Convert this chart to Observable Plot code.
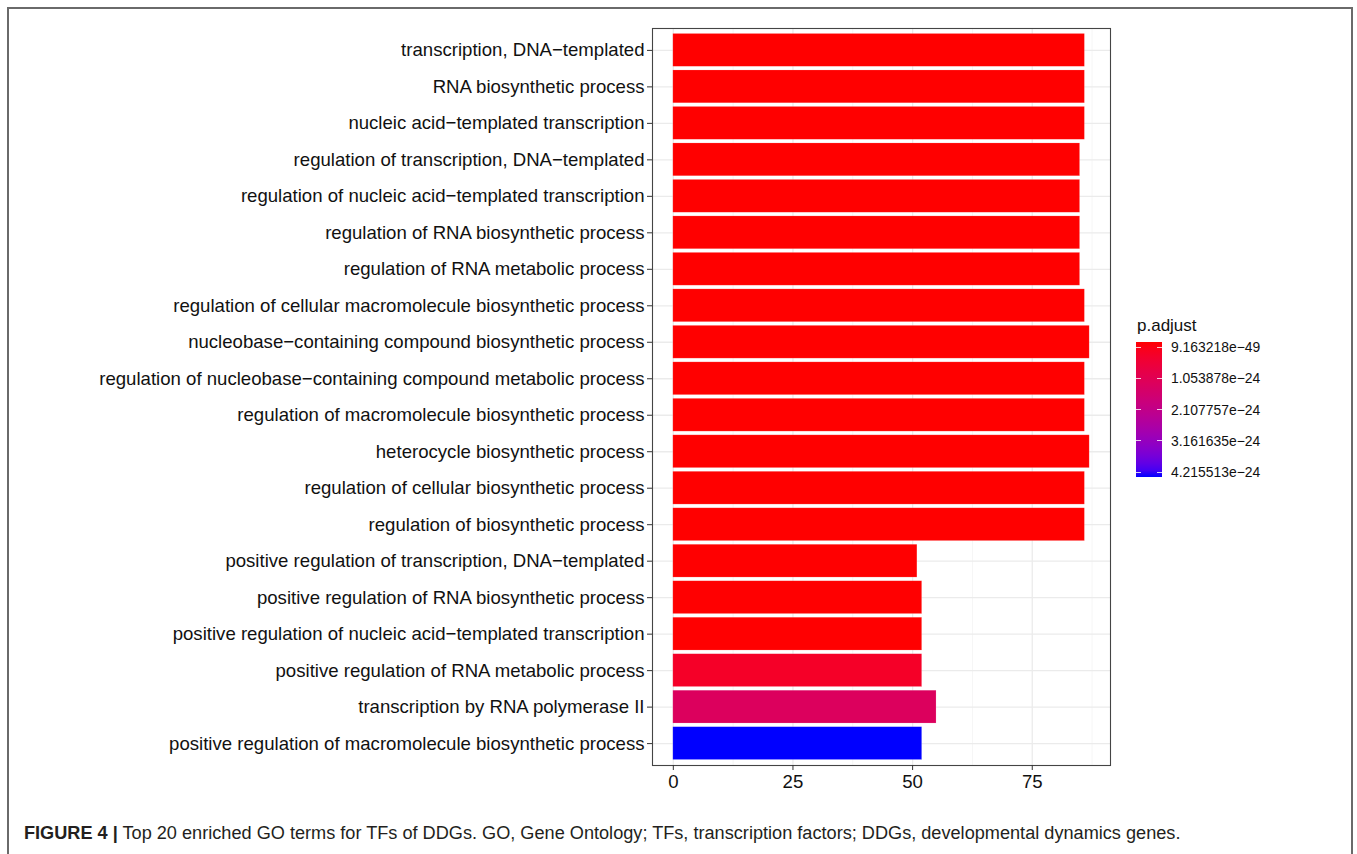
<!DOCTYPE html>
<html>
<head>
<meta charset="utf-8">
<script src="https://cdn.jsdelivr.net/npm/d3@7"></script>
<script src="https://cdn.jsdelivr.net/npm/@observablehq/plot@0.6"></script>
<style>
  html, body { margin: 0; padding: 0; background: #fff; overflow: hidden; }
  #wrap { position: relative; width: 1357px; height: 854px; font-family: "Liberation Sans", Arial, sans-serif; }
  #frame { position: absolute; left: 7px; top: 7px; width: 1346px; height: 900px; border: 2px solid #6a6a6a; box-sizing: border-box; }
  #chart { position: absolute; left: 0; top: 0; }
  #legend { position: absolute; left: 1136px; top: 316px; }
  #caption { position: absolute; left: 24px; top: 823px; font-size: 18.15px; color: #231f20; white-space: nowrap; }
</style>
</head>
<body>
<div id="wrap">
  <div id="frame"></div>
  <div id="chart"></div>
  <div id="legend"></div>
  <div id="caption"><b>FIGURE 4 |</b> Top 20 enriched GO terms for TFs of DDGs. GO, Gene Ontology; TFs, transcription factors; DDGs, developmental dynamics genes.</div>
</div>
<script>
const terms = [
  "transcription, DNA−templated",
  "RNA biosynthetic process",
  "nucleic acid−templated transcription",
  "regulation of transcription, DNA−templated",
  "regulation of nucleic acid−templated transcription",
  "regulation of RNA biosynthetic process",
  "regulation of RNA metabolic process",
  "regulation of cellular macromolecule biosynthetic process",
  "nucleobase−containing compound biosynthetic process",
  "regulation of nucleobase−containing compound metabolic process",
  "regulation of macromolecule biosynthetic process",
  "heterocycle biosynthetic process",
  "regulation of cellular biosynthetic process",
  "regulation of biosynthetic process",
  "positive regulation of transcription, DNA−templated",
  "positive regulation of RNA biosynthetic process",
  "positive regulation of nucleic acid−templated transcription",
  "positive regulation of RNA metabolic process",
  "transcription by RNA polymerase II",
  "positive regulation of macromolecule biosynthetic process"
];
const counts = [86, 86, 86, 85, 85, 85, 85, 86, 87, 86, 86, 87, 86, 86, 51, 52, 52, 52, 55, 52];
const padjust = [9.163218e-49, 9.163218e-49, 9.163218e-49, 2.3e-48, 2.3e-48, 2.3e-48, 4.1e-48, 1.2e-45, 3.5e-45, 8.8e-45,
                 1.5e-44, 2.9e-44, 6.0e-44, 1.1e-43, 3.8e-27, 5.6e-27, 5.6e-27, 3.9e-25, 1.3e-24, 4.215513e-24];
const xTicks = [0, 25, 50, 75];
const xMinorTicks = [12.5, 37.5, 62.5, 87.5];
const legendTicks = [9.163218e-49, 1.053878e-24, 2.107757e-24, 3.161635e-24, 4.215513e-24];
const legendLabels = ["9.163218e−49", "1.053878e−24", "2.107757e−24", "3.161635e−24", "4.215513e−24"];

const data = terms.map((t, i) => ({term: t, count: counts[i], p: padjust[i]}));
const pDomain = [d3.min(padjust), d3.max(padjust)];
const xMax = d3.max(counts);
const xPad = xMax * 0.05;

const chart = Plot.plot({
  width: 1357,
  height: 800,
  marginLeft: 652,
  marginRight: 247,
  marginTop: 28,
  marginBottom: 35,
  style: {fontFamily: "'Liberation Sans', Arial, sans-serif", background: "transparent"},
  x: {domain: [-xPad, xMax + xPad]},
  y: {type: "band", domain: terms, paddingInner: 0.1, paddingOuter: 0.15, round: false},
  color: {type: "linear", domain: pDomain, range: ["red", "blue"], interpolate: "lab"},
  marks: [
    Plot.ruleX(xMinorTicks, {stroke: "#f3f3f3", strokeWidth: 0.8}),
    Plot.ruleX(xTicks, {stroke: "#ebebeb", strokeWidth: 1.3}),
    Plot.gridY({stroke: "#ebebeb", strokeWidth: 1.3, strokeOpacity: 1}),
    Plot.barX(data, {x: "count", y: "term", fill: "p", stroke: "#ffffff", strokeOpacity: 0.25, strokeWidth: 0.6}),
    Plot.frame({stroke: "#444", strokeWidth: 1.1}),
    Plot.axisY({tickSize: 5, tickPadding: 3, fontSize: 18.6, fill: "#111", stroke: "#333", label: null}),
    Plot.axisX({ticks: xTicks, tickSize: 5, tickPadding: 4, fontSize: 18.6, fill: "#111", stroke: "#333", label: null})
  ]
});
document.getElementById("chart").appendChild(chart);

// Vertical colour bar legend (ggplot style, reversed)
const interp = d3.interpolateLab("red", "blue");
const barTop = 26, barH = 135, barW = 26;
const tickY = d3.scaleLinear().domain(pDomain).range([barTop + 5, barTop + barH - 5]);
const stops = d3.range(0, 1.0001, 0.05).map(t => `${interp(t)} ${(t * 100).toFixed(1)}%`).join(", ");
const leg = document.getElementById("legend");
let html = `<div style="position:absolute;left:1px;top:0;font-size:17px;color:#111;white-space:nowrap;">p.adjust</div>`;
html += `<div style="position:absolute;left:0;top:${barTop}px;width:${barW}px;height:${barH}px;background:linear-gradient(to bottom, ${stops});"></div>`;
legendTicks.forEach((v, i) => {
  const y = tickY(v);
  html += `<div style="position:absolute;left:0;top:${y - 0.5}px;width:5px;height:1px;background:rgba(255,255,255,0.8)"></div>`;
  html += `<div style="position:absolute;left:${barW - 5}px;top:${y - 0.5}px;width:5px;height:1px;background:rgba(255,255,255,0.8)"></div>`;
  html += `<div style="position:absolute;left:35px;top:${y - 8}px;font-size:13.9px;line-height:16px;color:#111;white-space:nowrap;">${legendLabels[i]}</div>`;
});
leg.innerHTML = html;
</script>
</body>
</html>
